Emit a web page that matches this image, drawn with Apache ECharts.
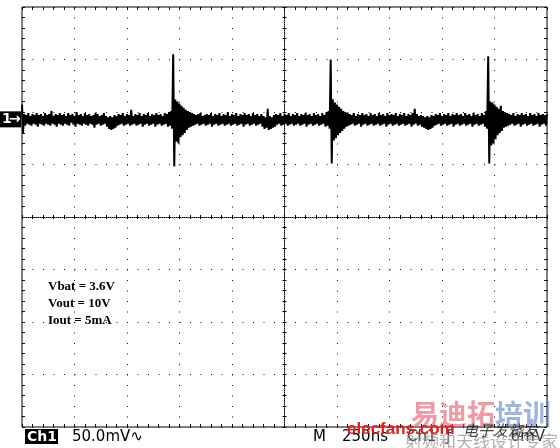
<!DOCTYPE html>
<html><head><meta charset="utf-8">
<script src="https://cdn.jsdelivr.net/npm/echarts@6/dist/echarts.min.js"></script>
<style>html,body{margin:0;padding:0;background:#fff}#c{width:560px;height:448px}</style>
</head><body><div id="c"></div><script>
// ---- data ----
const timeStartNs = -1250;      // left edge of screen, 250 ns/div, 10 div
const timeStepNs = 5;           // sample spacing
const xRangeNs = [-1250, 1250];
const yRangemV = [-200, 200];   // 50 mV/div, 8 div
const xDivNs = 250;
const yDivmV = 50;
const ch1RefmV = 93;            // channel-1 marker level
const ch1mV = [
107,80,98,87,97,89,99,88,96,87,98,89,97,88,99,86,97,89,98,88,
96,87,99,89,97,88,98,87,101,89,96,88,98,86,97,89,99,88,97,87,
98,89,96,88,99,87,97,90,98,88,96,86,100,89,97,88,98,87,96,89,
99,88,97,87,98,89,96,88,97,85,99,88,98,89,96,87,97,88,99,89,
96,86,95,84,96,83,95,84,97,85,96,87,98,88,97,89,99,87,96,88,
98,89,97,87,102,88,96,89,98,87,97,88,99,89,96,86,98,88,97,89,
99,87,96,88,98,89,97,86,99,88,97,89,98,87,96,88,99,89,98,86,
100,87,101,84,155,48,112,72,110,70,108,76,106,78,104,80,102,83,101,85,
100,86,99,87,98,88,97,89,98,87,99,88,96,89,97,87,98,88,97,89,
99,86,96,88,98,89,97,87,99,88,96,89,98,87,97,88,100,89,96,87,
98,88,97,89,99,87,96,88,98,89,97,86,99,88,97,89,98,87,96,88,
99,89,97,87,98,88,96,89,98,86,96,84,95,85,103,83,96,84,95,85,
97,86,98,88,97,89,99,87,96,88,98,89,97,87,99,88,96,89,98,87,
97,88,99,89,96,87,98,88,97,89,99,86,97,88,98,89,96,87,99,88,
97,89,98,87,96,88,99,89,97,86,100,87,101,84,150,51,112,73,109,75,
107,78,105,80,103,82,101,84,100,86,99,87,98,88,97,89,99,87,96,88,
98,89,97,86,99,88,97,89,98,87,96,88,99,89,97,87,98,88,96,89,
99,87,97,88,98,89,96,86,99,88,97,89,98,87,97,88,99,89,96,87,
98,88,97,89,99,87,96,88,98,89,97,86,99,88,103,89,98,87,96,88,
97,86,96,85,95,84,96,83,95,84,97,85,96,87,98,88,97,89,99,87,
96,88,98,89,97,87,99,88,96,89,98,86,97,88,99,89,97,87,98,88,
96,89,99,87,97,88,98,89,96,86,99,88,97,89,98,87,96,88,99,89,
97,86,101,84,153,51,110,68,109,70,107,74,105,78,103,80,106,82,101,85,
100,86,99,87,98,88,97,89,99,87,96,88,98,89,97,86,99,88,97,89,
98,87,96,88,99,89,97,87,98,88,96,89,99,86,97,88,98,89,97,87,
98
];
const ch1Num = '1', ch1Arrow = '→';
const noteLines = ['Vbat = 3.6V', 'Vout = 10V', 'Iout = 5mA'];
const chName = 'Ch1';
const chScale = '50.0mV∿';
const timeMode = 'M';
const timeScale = '250ns';
const trigText = 'Ch1  ƒ';
const trigLevel = '6mV';
const wmBig1 = '易迪拓', wmBig2 = '培训';
const wmSite = 'elecfans.com', wmSiteCn = '电子发烧友', wmSub = '射频和天线设计专家';

const traceData = ch1mV.map((v, i) => [timeStartNs + i * timeStepNs, v]);

const G = {left: 22, top: 7, width: 525, height: 420};
const hidden = {show: false};
function xAx(grid, pos, opts) {
  return Object.assign({
    type: 'value', gridIndex: grid, position: pos,
    min: xRangeNs[0], max: xRangeNs[1], interval: xDivNs,
    axisLabel: hidden, splitLine: hidden,
    axisLine: {show: false, onZero: false}
  }, opts);
}
function yAx(grid, pos, opts) {
  return Object.assign({
    type: 'value', gridIndex: grid, position: pos,
    min: yRangemV[0], max: yRangemV[1], interval: yDivmV,
    axisLabel: hidden, splitLine: hidden,
    axisLine: {show: false, onZero: false}
  }, opts);
}
const dotGrid = {show: true, lineStyle: {color: '#111', width: 1, type: [1, 9.5]}};
const borderTick = {show: true, inside: true, length: 3, lineStyle: {color: '#111'}};
const borderMinor = {show: true, splitNumber: 5, length: 3, lineStyle: {color: '#111'}};
const centerLine = {show: true, onZero: true, lineStyle: {color: '#000', width: 1, type: [1, 1]}};
const cTickIn = {show: true, inside: true, length: 2, lineStyle: {color: '#000'}};
const cTickOut = {show: true, inside: false, length: 2, lineStyle: {color: '#000'}};
const cMinor = {show: true, splitNumber: 5, length: 2, lineStyle: {color: '#000'}};

const option = {
  animation: false,
  backgroundColor: '#fff',
  grid: [
    Object.assign({show: true, borderColor: '#000', borderWidth: 1, backgroundColor: 'transparent'}, G),
    Object.assign({}, G),
    Object.assign({}, G)
  ],
  xAxis: [
    xAx(0, 'bottom', {splitLine: dotGrid, axisTick: borderTick, minorTick: borderMinor}),
    xAx(0, 'top', {axisTick: borderTick, minorTick: borderMinor}),
    xAx(1, 'bottom', {axisLine: centerLine, axisTick: cTickIn, minorTick: cMinor}),
    xAx(2, 'bottom', {axisLine: {show: false, onZero: true}, axisTick: cTickOut, minorTick: cMinor})
  ],
  yAxis: [
    yAx(0, 'left', {splitLine: dotGrid, axisTick: borderTick, minorTick: borderMinor}),
    yAx(0, 'right', {axisTick: borderTick, minorTick: borderMinor}),
    yAx(1, 'left', {axisLine: centerLine, axisTick: cTickIn, minorTick: cMinor}),
    yAx(2, 'left', {axisLine: {show: false, onZero: true}, axisTick: cTickOut, minorTick: cMinor})
  ],
  series: [{
    type: 'line', xAxisIndex: 0, yAxisIndex: 0,
    data: traceData, showSymbol: false, symbol: 'none', sampling: null,
    lineStyle: {color: '#000', width: 2}, z: 10, silent: true
  }]
};

const chart = echarts.init(document.getElementById('c'), null, {renderer: 'canvas'});
chart.setOption(option);

const refY = chart.convertToPixel({yAxisIndex: 0}, ch1RefmV);
const sans = '"DejaVu Sans", sans-serif';
const graphic = [
  {type: 'rect', shape: {x: 0, y: refY - 8, width: 21, height: 16}, style: {fill: '#000'}, z: 20},
  {type: 'text', x: 2, y: refY, style: {text: ch1Num, fill: '#fff', font: 'bold 14px ' + sans, textVerticalAlign: 'middle'}, z: 21},
  {type: 'text', x: 9, y: refY, style: {text: ch1Arrow, fill: '#fff', font: 'bold 14px ' + sans, textVerticalAlign: 'middle'}, z: 21},
  {type: 'rect', shape: {x: 25, y: 429, width: 33, height: 15}, style: {fill: '#000'}, z: 20},
  {type: 'text', x: 27, y: 437, style: {text: chName, fill: '#fff', font: 'bold 14px ' + sans, textVerticalAlign: 'middle'}, z: 21},
  {type: 'text', x: 72, y: 437, style: {text: chScale, fill: '#000', font: '15px ' + sans, textVerticalAlign: 'middle'}, z: 21},
  {type: 'text', x: 313, y: 437, style: {text: timeMode, fill: '#000', font: '15px ' + sans, textVerticalAlign: 'middle'}, z: 21},
  {type: 'text', x: 342, y: 437, style: {text: timeScale, fill: '#000', font: '15px ' + sans, textVerticalAlign: 'middle'}, z: 21},
  {type: 'text', x: 407, y: 437, style: {text: trigText, fill: '#333', font: '15px ' + sans, textVerticalAlign: 'middle'}, z: 21},
  {type: 'text', x: 545, y: 437, style: {text: trigLevel, fill: '#333', font: '15px ' + sans, textVerticalAlign: 'middle', textAlign: 'right'}, z: 21},
  // watermark
  {type: 'text', x: 411, y: 414, style: {text: wmBig1, fill: 'rgba(222,90,105,0.6)', font: 'bold 28px "Noto Sans CJK SC"', textVerticalAlign: 'middle'}, z: 30},
  {type: 'text', x: 495, y: 414, style: {text: wmBig2, fill: 'rgba(90,130,200,0.6)', font: 'bold 28px "Noto Sans CJK SC"', textVerticalAlign: 'middle'}, z: 30},
  {type: 'text', x: 405, y: 442, style: {text: wmSub, fill: 'rgba(150,150,150,0.75)', font: '17px "Noto Sans CJK SC"', textVerticalAlign: 'middle'}, z: 31},
  {type: 'text', x: 347, y: 429, style: {text: wmSite, fill: '#e0201c', font: 'bold 17px "Liberation Sans", sans-serif', textVerticalAlign: 'middle'}, z: 32},
  {type: 'text', x: 463, y: 430, style: {text: wmSiteCn, fill: 'rgba(40,40,40,0.85)', font: 'italic 15px "Noto Sans CJK SC"', textVerticalAlign: 'middle'}, z: 32}
];
noteLines.forEach((t, i) => {
  graphic.push({type: 'text', x: 48, y: 287 + i * 17, style: {text: t, fill: '#000', font: 'bold 13px "Liberation Serif", serif', textVerticalAlign: 'middle'}, z: 21});
});
chart.setOption({graphic: graphic});
</script></body></html>
